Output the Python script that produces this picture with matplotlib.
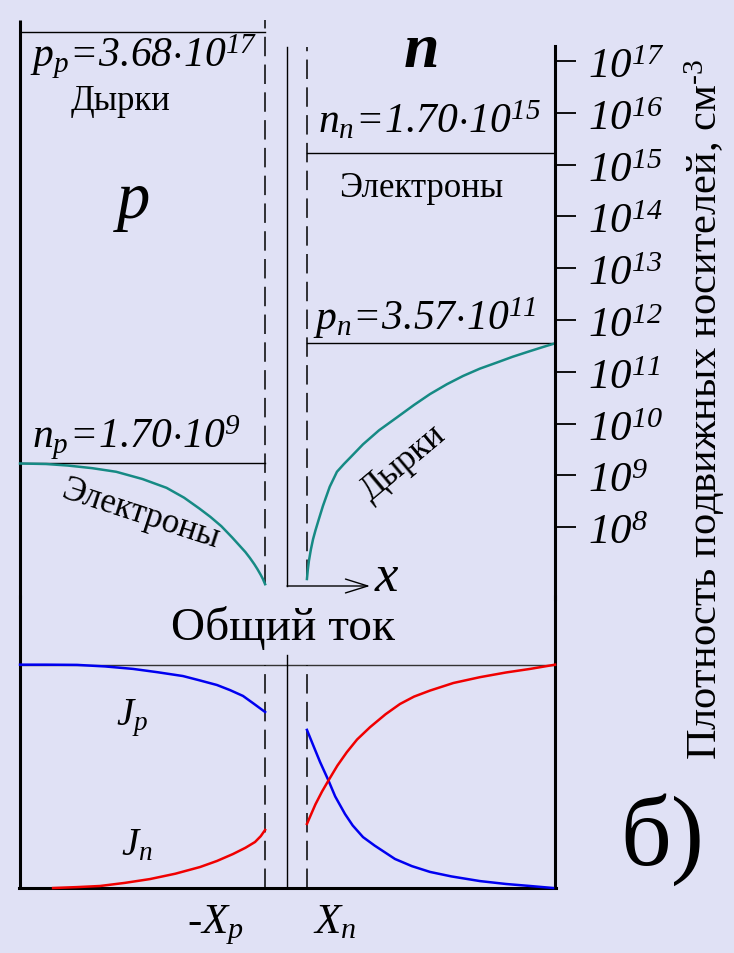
import numpy as np
import matplotlib
matplotlib.use('Agg')
import matplotlib.pyplot as plt
from matplotlib.ticker import NullLocator

plt.rcParams['font.family'] = 'Liberation Serif'
plt.rcParams['mathtext.fontset'] = 'custom'
plt.rcParams['mathtext.rm'] = 'Liberation Serif:italic'
plt.rcParams['mathtext.it'] = 'Liberation Serif:italic'
plt.rcParams['mathtext.sf'] = 'Liberation Serif'
plt.rcParams['lines.scale_dashes'] = False

BG = '#E0E1F5'
TEAL = '#168A84'
BLUE = '#0000F0'
RED = '#F00000'
DASH = (0, (14, 6))

# boundaries of the structure (junction at x = 0)
X_LEFT, X_P, X_N, X_RIGHT = -12.19, -1.0, 0.91, 12.24

# equilibrium carrier densities, cm^-3
p_p = 3.68e17
n_n = 1.70e15
p_n = 3.57e11
n_p = 1.70e9

# electrons in p region (lg n)
x_el = [-12.19, -11.0, -10.0, -8.9, -7.8, -6.6, -5.5, -4.7, -4.0, -3.5, -3.0,
        -2.5, -2.2, -1.9, -1.7, -1.5, -1.35, -1.2, -1.1, -1.0]
lg_el = [9.23, 9.22, 9.19, 9.14, 9.07, 8.93, 8.76, 8.57, 8.36, 8.20, 8.02,
         7.80, 7.66, 7.52, 7.41, 7.29, 7.19, 7.08, 7.00, 6.90]

# holes in n region (lg p)
x_h = [0.91, 0.95, 1.0, 1.09, 1.19, 1.3, 1.45, 1.64, 1.95, 2.28, 2.6, 2.9, 3.47,
       4.2, 5.02, 5.8, 6.53, 7.3, 8.04, 8.8, 9.59, 10.3, 11.10, 11.7, 12.24]
lg_h = [7.0, 7.18, 7.35, 7.57, 7.77, 7.94, 8.15, 8.41, 8.78, 9.07, 9.22, 9.35, 9.60,
        9.87, 10.12, 10.36, 10.57, 10.76, 10.92, 11.06, 11.18, 11.29, 11.40, 11.48, 11.55]

# current components, fraction of total current
x_jp_l = [-12.19, -11.0, -9.59, -8.3, -7.03, -5.9, -4.75, -4.0, -3.20, -2.6,
          -2.01, -1.5, -1.25, -1.0]
jp_l = [1.0, 1.0, 0.999, 0.992, 0.981, 0.966, 0.949, 0.930, 0.909, 0.886,
        0.860, 0.824, 0.806, 0.788]
x_jn_l = [-10.68, -9.6, -8.54, -7.4, -6.26, -5.1, -3.97, -3.2, -2.47, -1.9,
          -1.46, -1.2, -1.0]
jn_l = [0.0, 0.004, 0.009, 0.023, 0.040, 0.064, 0.094, 0.121, 0.152, 0.180,
        0.206, 0.232, 0.260]
x_jp_r = [0.91, 1.2, 1.51, 1.89, 2.2, 2.65, 3.0, 3.47, 4.0, 4.93, 5.7, 6.53,
          7.5, 8.81, 10.0, 11.10, 12.15]
jp_r = [0.708, 0.638, 0.564, 0.482, 0.410, 0.331, 0.280, 0.228, 0.190, 0.130,
        0.098, 0.072, 0.052, 0.031, 0.018, 0.009, 0.0]
x_jn_r = [0.91, 1.1, 1.3, 1.6, 1.89, 2.3, 2.73, 3.2, 3.79, 4.5, 5.16, 5.8,
          6.53, 7.6, 8.81, 10.0, 11.10, 12.24]
jn_r = [0.287, 0.330, 0.375, 0.432, 0.481, 0.548, 0.608, 0.665, 0.720, 0.778,
        0.824, 0.857, 0.884, 0.918, 0.944, 0.965, 0.981, 1.0]

decades = np.arange(8, 18)

fig = plt.figure(figsize=(7.34, 9.54), dpi=100, facecolor=BG)

# upper panel: carrier densities, log scale
lo, hi = 10 ** 6.614, 10 ** 18.197
ax = fig.add_axes([0, 354 / 954, 1, 600 / 954])
ax.patch.set_visible(False)
ax.set_xlim(-13.105, 20.41)
ax.set_yscale('log')
ax.set_ylim(lo, hi)
for s in ['left', 'top', 'bottom']:
    ax.spines[s].set_visible(False)
ax.spines['right'].set_position(('data', X_RIGHT))
ax.spines['right'].set_bounds(lo, 10 ** 17.29)
ax.spines['right'].set_linewidth(2.2)
ax.xaxis.set_visible(False)
ax.yaxis.tick_right()
ax.set_yticks(10.0 ** decades)
ax.yaxis.set_minor_locator(NullLocator())
ax.tick_params(axis='y', direction='out', length=15, width=1.3,
               labelright=False, left=False, right=True)
for k in decades:
    ax.annotate('$10^{%d}$' % k, xy=(13.74, 10.0 ** k), xytext=(0, -11.5),
                textcoords='offset points', ha='left', va='baseline', fontsize=31)

top = 10 ** 17.8
top2 = 10 ** 17.27
ax.plot([X_LEFT, X_LEFT], [lo, top], color='black', lw=2.2,
        solid_capstyle='butt', clip_on=False)
ax.plot([X_P, X_P], [10 ** lg_el[-1], top], color='black', lw=1.1, ls=DASH)
ax.plot([X_N, X_N], [10 ** lg_h[0], top2], color='black', lw=1.1, ls=DASH)
arrow_y = 10 ** 6.865
ax.plot([0, 0], [arrow_y, top2], color='black', lw=1.0)
ax.annotate('', xy=(3.79, arrow_y), xytext=(0, arrow_y),
            arrowprops=dict(arrowstyle='->,head_length=0.8,head_width=0.25',
                            lw=1.0, color='black', mutation_scale=20,
                            shrinkA=0, shrinkB=0))
ax.text(4.0, 10 ** 6.79, 'x', fontsize=38, fontstyle='italic', va='baseline')

# equilibrium levels
ax.plot([X_LEFT, X_P], [p_p, p_p], color='black', lw=1.0)
ax.plot([X_N, X_RIGHT], [n_n, n_n], color='black', lw=1.0)
ax.plot([X_N, X_RIGHT], [p_n, p_n], color='black', lw=1.0)
ax.plot([X_LEFT, X_P], [n_p, n_p], color='black', lw=1.0)

ax.annotate(r'$p_p\!=\!3.68{\cdot}10^{17}$', xy=(-11.74, p_p), xytext=(0, -25),
            textcoords='offset points', va='baseline', fontsize=30)
ax.annotate(r'$n_n\!=\!1.70{\cdot}10^{15}$', xy=(1.42, n_n), xytext=(0, 15),
            textcoords='offset points', va='baseline', fontsize=30)
ax.annotate(r'$p_n\!=\!3.57{\cdot}10^{11}$', xy=(1.19, p_n), xytext=(0, 10),
            textcoords='offset points', va='baseline', fontsize=30)
ax.annotate(r'$n_p\!=\!1.70{\cdot}10^{9}$', xy=(-11.64, n_p), xytext=(0, 11.5),
            textcoords='offset points', va='baseline', fontsize=30)

ax.plot(x_el, 10.0 ** np.array(lg_el), color=TEAL, lw=1.8)
ax.plot(x_h, 10.0 ** np.array(lg_h), color=TEAL, lw=1.8)

ax.text(-7.58, 10 ** 16.073, 'Дырки', fontsize=25, ha='center', va='baseline')
ax.text(6.14, 10 ** 14.39, 'Электроны', fontsize=25, ha='center', va='baseline')
ax.text(-7.0, 10 ** 13.99, 'p', fontsize=48, fontstyle='italic', ha='center', va='baseline')
ax.text(6.16, 10 ** 16.90, 'n', fontsize=46, fontstyle='italic', fontweight='bold',
        ha='center', va='baseline')
ax.text(-6.71, 10 ** 8.255, 'Электроны', fontsize=25, rotation=-18,
        ha='center', va='center', rotation_mode='anchor')
ax.text(5.30, 10 ** 9.26, 'Дырки', fontsize=25, rotation=40,
        ha='center', va='center', rotation_mode='anchor')

# lower panel: current components
bx = fig.add_axes([0, 0, 1, 354 / 954])
bx.patch.set_visible(False)
bx.set_xlim(-13.105, 20.41)
bx.set_ylim(-0.291, 1.294)
bx.axis('off')

btop = 1.31
bx.plot([X_LEFT, X_LEFT], [0, btop], color='black', lw=2.2,
        solid_capstyle='butt', clip_on=False)
bx.plot([X_RIGHT, X_RIGHT], [0, btop], color='black', lw=2.2,
        solid_capstyle='butt', clip_on=False)
bx.plot([X_LEFT - 0.05, X_RIGHT + 0.05], [0, 0], color='black', lw=2.2)
bx.plot([X_LEFT, X_RIGHT], [1, 1], color='#333333', lw=1.0)
bx.plot([X_P, X_P], [0, 1], color='black', lw=1.1, ls=DASH)
bx.plot([X_N, X_N], [0, 1], color='black', lw=1.1, ls=DASH)
bx.plot([0, 0], [0, 1.043], color='black', lw=1.0)

bx.plot(x_jp_l, jp_l, color=BLUE, lw=1.8)
bx.plot(x_jp_r, jp_r, color=BLUE, lw=1.8)
bx.plot(x_jn_l, jn_l, color=RED, lw=1.8)
bx.plot(x_jn_r, jn_r, color=RED, lw=1.8)

bx.text(-0.2, 1.115, 'Общий ток', fontsize=34, ha='center', va='baseline')
bx.text(-7.08, 0.734, '$J_p$', fontsize=28, ha='center', va='baseline')
bx.text(-6.85, 0.152, '$J_n$', fontsize=28, ha='center', va='baseline')
bx.text(-4.57, -0.197, '-$X_p$', fontsize=31, ha='left', va='baseline')
bx.text(1.19, -0.197, '$X_n$', fontsize=31, ha='left', va='baseline')

fig.text(705 / 734, 1 - 410 / 954, 'Плотность подвижных носителей, см$^{\\mathsf{‐3}}$',
         rotation=90, ha='center', va='center', fontsize=30.5)
fig.text(662 / 734, 1 - 840 / 954, 'б)', fontsize=72, ha='center', va='center')

plt.savefig('out.png', dpi=100, facecolor=BG)
